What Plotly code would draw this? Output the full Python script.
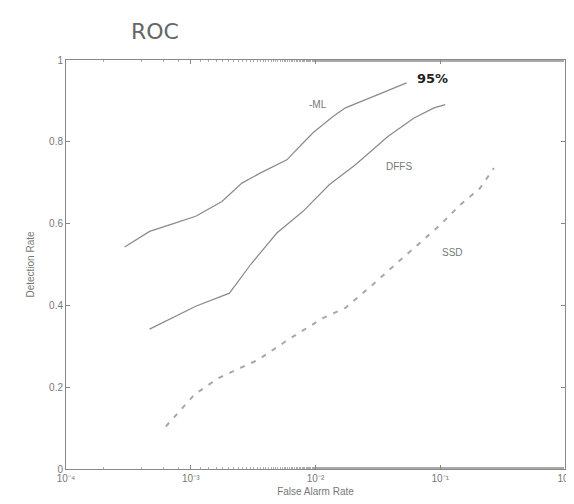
import plotly.graph_objects as go

# ML curve (log10 false alarm rate, detection rate)
ml_logx = [-3.53, -3.33, -3.17, -2.96, -2.75, -2.59, -2.44, -2.23, -2.10, -2.02, -1.86, -1.76, -1.47, -1.27]
ml_y = [0.543, 0.581, 0.597, 0.618, 0.654, 0.699, 0.724, 0.756, 0.797, 0.822, 0.862, 0.883, 0.919, 0.944]

dffs_logx = [-3.33, -2.96, -2.69, -2.52, -2.31, -2.10, -1.89, -1.68, -1.42, -1.21, -1.05, -0.96]
dffs_y = [0.342, 0.398, 0.430, 0.500, 0.577, 0.630, 0.695, 0.744, 0.813, 0.858, 0.883, 0.891]

ssd_logx = [-3.20, -2.97, -2.78, -2.46, -2.20, -1.94, -1.76, -1.57, -1.36, -1.18, -1.00, -0.84, -0.68, -0.57]
ssd_y = [0.104, 0.182, 0.222, 0.267, 0.320, 0.369, 0.394, 0.443, 0.500, 0.548, 0.597, 0.646, 0.687, 0.736]

x_tickvals = [1e-4, 1e-3, 1e-2, 1e-1, 1e0]
x_ticktext = ["10⁻⁴", "10⁻³", "10⁻²", "10⁻¹", "10⁰"]
y_tickvals = [0, 0.2, 0.4, 0.6, 0.8, 1]
y_ticktext = ["0", "0.2", "0.4", "0.6", "0.8", "1"]

ml_x = [10 ** v for v in ml_logx]
dffs_x = [10 ** v for v in dffs_logx]
ssd_x = [10 ** v for v in ssd_logx]

line_col = "#8a8a8a"
fig = go.Figure()
fig.add_trace(go.Scatter(x=ml_x, y=ml_y, mode="lines", line=dict(color=line_col, width=1.2), name="ML"))
fig.add_trace(go.Scatter(x=dffs_x, y=dffs_y, mode="lines", line=dict(color=line_col, width=1.2), name="DFFS"))
fig.add_trace(go.Scatter(x=ssd_x, y=ssd_y, mode="lines", line=dict(color="#a8a8a8", width=2, dash="5px,7px"), name="SSD"))

tfont = dict(family="Liberation Sans, Arial", size=10, color="#777777")
fig.add_annotation(x=-1.98, y=0.89, xref="x", yref="y", text="-ML", showarrow=False, font=tfont)
fig.add_annotation(x=-1.33, y=0.74, xref="x", yref="y", text="DFFS", showarrow=False, font=tfont)
fig.add_annotation(x=-0.90, y=0.53, xref="x", yref="y", text="SSD", showarrow=False, font=tfont)
fig.add_annotation(x=-1.06, y=0.955, xref="x", yref="y", text="<b>95%</b>", showarrow=False,
                   font=dict(family="DejaVu Sans", size=13, color="#222222"))

W, H = 574, 504
L, R, T, B = 58, 9, 52, 43
fig.add_annotation(x=(148 - L) / (W - L - R), y=1 + (T - 23) / (H - T - B), xref="paper", yref="paper",
                   xanchor="center", yanchor="middle", text="ROC", showarrow=False,
                   font=dict(family="DejaVu Sans", size=22, color="#666666"))

fig.update_layout(
    width=W, height=H,
    margin=dict(l=L, r=R, t=T, b=B),
    paper_bgcolor="white", plot_bgcolor="white",
    showlegend=False,
)

fig.update_xaxes(type="log", range=[-4, 0], tickvals=x_tickvals, ticktext=x_ticktext,
                 showgrid=False, zeroline=False, showline=True, mirror="ticks", linecolor="#888888",
                 ticks="inside", ticklen=4, tickcolor="#888888",
                 minor=dict(ticks="inside", ticklen=2, tickcolor="#aaaaaa"),
                 tickfont=tfont, title=dict(text="False Alarm Rate", font=tfont, standoff=4))
fig.update_yaxes(range=[0, 1], tickvals=y_tickvals, ticktext=y_ticktext,
                 showgrid=False, zeroline=False, showline=True, mirror="ticks", linecolor="#888888",
                 ticks="inside", ticklen=4, tickcolor="#888888",
                 tickfont=tfont, title=dict(text="Detection Rate", font=tfont, standoff=12))

fig.write_html("out.html")
